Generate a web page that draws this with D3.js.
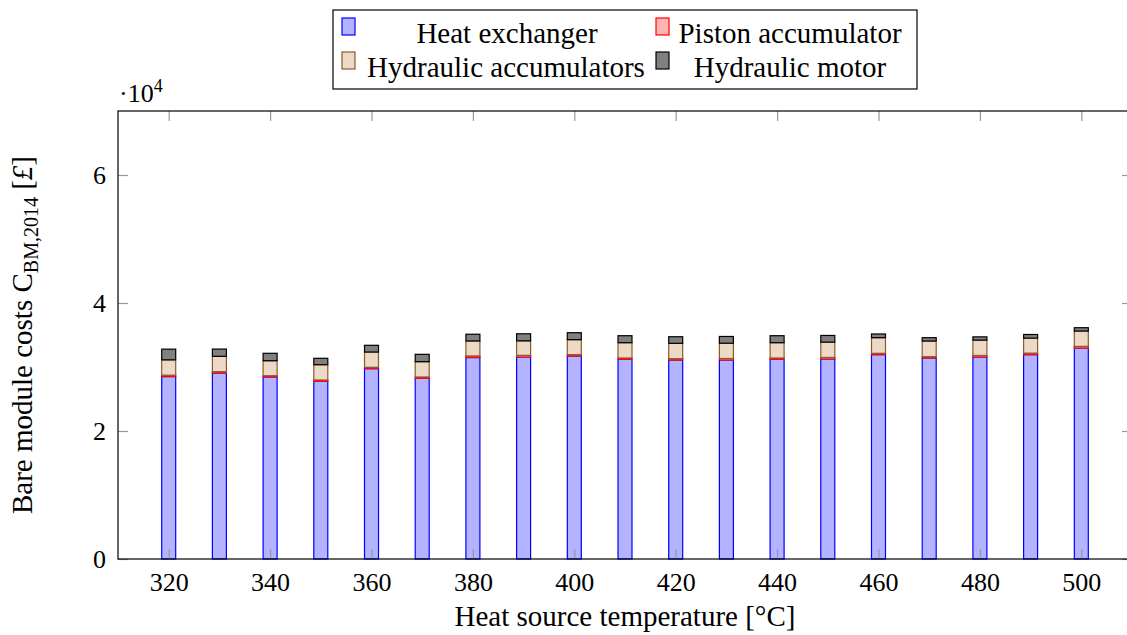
<!DOCTYPE html>
<html>
<head>
<meta charset="utf-8">
<script src="https://cdn.jsdelivr.net/npm/d3@7"></script>
<style>
  body { margin: 0; background: #fff; }
  text { font-family: "Liberation Serif", "DejaVu Serif", serif; fill: #000; }
</style>
</head>
<body>
<svg id="chart"></svg>
<script>
// temperatures on the x axis
var temps = [320, 330, 340, 350, 360, 370, 380, 390, 400, 410, 420, 430, 440, 450, 460, 470, 480, 490, 500];

// bare module costs [£], stacked bottom to top
var heatExchanger = [28500, 29060, 28440, 27770, 29740, 28230, 31480, 31560, 31720, 31200, 31090, 31090, 31200, 31250, 31930, 31410, 31560, 31930, 32970];
var pistonAccumulator = [220, 210, 200, 200, 210, 210, 250, 260, 210, 210, 210, 240, 210, 240, 210, 200, 240, 240, 250];
var hydraulicAccumulators = [2400, 2400, 2340, 2390, 2390, 2390, 2340, 2270, 2340, 2390, 2400, 2390, 2390, 2400, 2440, 2450, 2400, 2340, 2400];
var hydraulicMotor = [1670, 1130, 1160, 1000, 1050, 1150, 1050, 1100, 1090, 1090, 1030, 1050, 1090, 1040, 580, 520, 510, 570, 520];

var seriesKeys = ["Heat exchanger", "Piston accumulator", "Hydraulic accumulators", "Hydraulic motor"];
var xTicks = [320, 340, 360, 380, 400, 420, 440, 460, 480, 500];
var yTicks = [0, 20000, 40000, 60000];

var fills = { "Heat exchanger": "#b3b3ff", "Piston accumulator": "#ffb3b3", "Hydraulic accumulators": "#ecd9c6", "Hydraulic motor": "#808080" };
var strokes = { "Heat exchanger": "#0000ff", "Piston accumulator": "#ff0000", "Hydraulic accumulators": "#8b5a2b", "Hydraulic motor": "#000000" };

var width = 1127, height = 635;
var margin = { left: 118, top: 111 };
var plotW = 1014, plotH = 448;
var fs = 26;      // tick labels
var fsText = 29;  // titles and legend

var rows = temps.map(function(t, i) {
  return {
    temp: t,
    "Heat exchanger": heatExchanger[i],
    "Piston accumulator": pistonAccumulator[i],
    "Hydraulic accumulators": hydraulicAccumulators[i],
    "Hydraulic motor": hydraulicMotor[i]
  };
});

var stacked = d3.stack().keys(seriesKeys)(rows);

var svg = d3.select("#chart").attr("width", width).attr("height", height);
var g = svg.append("g").attr("transform", "translate(" + margin.left + "," + margin.top + ")");

var x = d3.scaleLinear().domain([310, 510]).range([0, plotW]);
var y = d3.scaleLinear().domain([0, 70000]).range([plotH, 0]);
var barW = 14;

// bars
g.selectAll(".series")
  .data(stacked)
  .enter()
  .append("g")
  .attr("class", "series")
  .attr("fill", d => fills[d.key])
  .attr("stroke", d => strokes[d.key])
  .attr("stroke-width", 1.2)
  .selectAll("rect")
  .data(d => d)
  .enter()
  .append("rect")
  .attr("x", d => x(d.data.temp) - barW / 2)
  .attr("width", barW)
  .attr("y", d => y(d[1]))
  .attr("height", d => y(d[0]) - y(d[1]));

// axes, ticks drawn inward on all sides
var tickLen = 10;
var xb = d3.axisBottom(x).tickValues(xTicks).tickSizeInner(-tickLen).tickSizeOuter(0).tickPadding(14);
var xt = d3.axisTop(x).tickValues(xTicks).tickSizeInner(-tickLen).tickSizeOuter(0).tickFormat("");
var yl = d3.axisLeft(y).tickValues(yTicks).tickSizeInner(-tickLen).tickSizeOuter(0).tickPadding(12).tickFormat(d => d / 10000);
var yr = d3.axisRight(y).tickValues(yTicks).tickSizeInner(-tickLen).tickSizeOuter(0).tickFormat("");

function styleAxis(sel) {
  sel.select(".domain").remove();
  sel.selectAll(".tick line").attr("stroke", "#999").attr("stroke-width", 1.2);
  sel.selectAll(".tick text").attr("font-size", fs).attr("font-family", "Liberation Serif, serif").attr("fill", "#000");
}

g.append("g").attr("transform", "translate(0," + plotH + ")").call(xb).call(styleAxis);
g.append("g").call(xt).call(styleAxis);
g.append("g").call(yl).call(styleAxis);
g.append("g").attr("transform", "translate(" + plotW + ",0)").call(yr).call(styleAxis);

g.append("rect")
  .attr("width", plotW)
  .attr("height", plotH)
  .attr("fill", "none")
  .attr("stroke", "#000")
  .attr("stroke-width", 1.2);

// scale factor label
var sf = svg.append("text").attr("x", 119).attr("y", 102).attr("font-size", fs);
sf.append("tspan").text("·10");
sf.append("tspan").attr("font-size", 18).attr("dy", -10).text("4");

// axis titles
svg.append("text")
  .attr("x", margin.left + plotW / 2)
  .attr("y", 626)
  .attr("text-anchor", "middle")
  .attr("font-size", fsText)
  .text("Heat source temperature [°C]");

var yt = svg.append("text")
  .attr("transform", "translate(32," + (margin.top + plotH / 2) + ") rotate(-90)")
  .attr("text-anchor", "middle")
  .attr("font-size", fsText);
yt.append("tspan").text("Bare module costs C");
yt.append("tspan").attr("font-size", 20).attr("dy", 6).text("BM,2014");
yt.append("tspan").attr("dy", -6).text(" [");
yt.append("tspan").attr("font-style", "italic").text("£");
yt.append("tspan").text("]");

// legend
var legend = svg.append("g").attr("class", "legend");
legend.append("rect")
  .attr("x", 333).attr("y", 10).attr("width", 584).attr("height", 79)
  .attr("fill", "#fff").attr("stroke", "#000").attr("stroke-width", 1.2);

var legendPos = [
  { key: "Heat exchanger", sx: 342, cx: 507, row: 0 },
  { key: "Piston accumulator", sx: 656, cx: 790, row: 0 },
  { key: "Hydraulic accumulators", sx: 342, cx: 506, row: 1 },
  { key: "Hydraulic motor", sx: 656, cx: 790, row: 1 }
];

var items = legend.selectAll(".item")
  .data(legendPos)
  .enter()
  .append("g")
  .attr("class", "item")
  .attr("transform", d => "translate(0," + (d.row * 34) + ")");

items.append("rect")
  .attr("x", d => d.sx).attr("y", 18)
  .attr("width", 13).attr("height", 17)
  .attr("fill", d => fills[d.key])
  .attr("stroke", d => strokes[d.key])
  .attr("stroke-width", 1.2);

items.append("text")
  .attr("x", d => d.cx)
  .attr("y", 43)
  .attr("text-anchor", "middle")
  .attr("font-size", fsText)
  .text(d => d.key);
</script>
</body>
</html>
